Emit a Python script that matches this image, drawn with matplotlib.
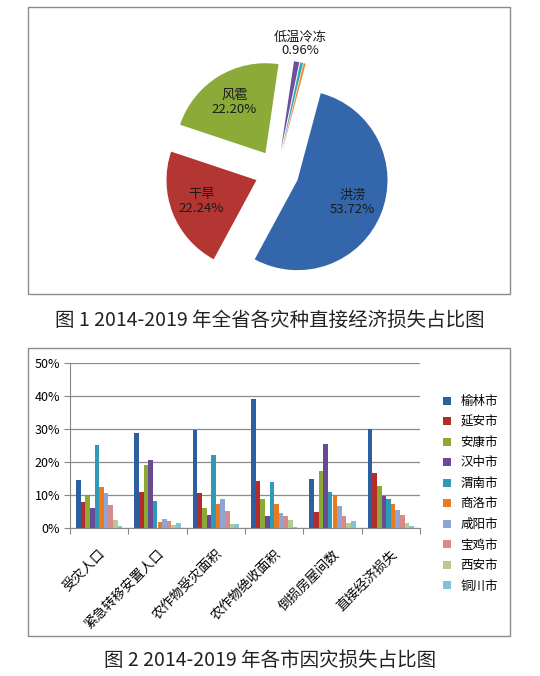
import numpy as np
import matplotlib
matplotlib.use('Agg')
import matplotlib.pyplot as plt
from matplotlib.patches import Rectangle

plt.rcParams['font.family'] = ['Noto Sans CJK SC', 'DejaVu Sans']
plt.rcParams['axes.unicode_minus'] = False

# pie data
pie_labels = ['洪涝', '干旱', '风雹', '低温冷冻', '其他1', '其他2']
pie_values = [53.72, 22.24, 22.20, 0.96, 0.50, 0.38]
pie_colors = ['#3366AA', '#B33633', '#8CAA38', '#6F4E9E', '#35A2C0', '#EE8A2E']
pie_shown = ['洪涝', '干旱', '风雹', '低温冷冻']

# bar data
categories = ['受灾人口', '紧急转移安置人口', '农作物受灾面积', '农作物绝收面积', '倒损房屋间数', '直接经济损失']
cities = ['榆林市', '延安市', '安康市', '汉中市', '渭南市', '商洛市', '咸阳市', '宝鸡市', '西安市', '铜川市']
yulin = [14.5, 28.7, 29.6, 39.0, 14.7, 29.9]
yanan = [7.8, 10.8, 10.5, 14.1, 4.7, 16.6]
ankang = [9.7, 19.1, 6.2, 8.9, 17.2, 12.6]
hanzhong = [6.2, 20.6, 3.9, 3.5, 25.4, 9.6]
weinan = [25.1, 8.3, 22.0, 13.8, 10.8, 8.9]
shangluo = [12.4, 1.9, 7.4, 7.4, 9.8, 7.4]
xianyang = [10.5, 2.8, 8.9, 4.4, 6.8, 5.6]
baoji = [6.9, 2.2, 5.3, 3.5, 3.5, 3.8]
xian = [2.5, 1.0, 1.3, 2.5, 1.5, 1.6]
tongchuan = [0.5, 1.6, 1.1, 0.4, 2.2, 0.7]
city_values = [yulin, yanan, ankang, hanzhong, weinan, shangluo, xianyang, baoji, xian, tongchuan]
city_colors = ['#2D5E9F', '#B42B2B', '#8AAA35', '#6A4A94', '#2F9AB8', '#E97A22',
               '#8DA6D6', '#D98A88', '#B5CB8E', '#7FC3D8']

W, H = 540, 676
fig = plt.figure(figsize=(W / 100, H / 100), dpi=100)


def fx(px):
    return px / W


def fy(py):
    return 1 - py / H


# frames
for (x0, y0, x1, y1) in [(28, 7, 510, 294), (28, 348, 510, 636)]:
    fig.add_artist(Rectangle((fx(x0), fy(y1)), fx(x1) - fx(x0), fy(y0) - fy(y1),
                             transform=fig.transFigure, fill=False,
                             edgecolor='#8c8c8c', linewidth=1.0))

# ---- pie ----
cx, cy, r = 277, 172, 90
ax1 = fig.add_axes([fx(28), fy(294), fx(510) - fx(28), fy(7) - fy(294)])
wedges, _ = ax1.pie(pie_values, colors=pie_colors, startangle=75, counterclock=False,
                    explode=[0.245] * len(pie_values), radius=1,
                    wedgeprops=dict(linewidth=0))
ax1.set_xlim((28 - cx) / r, (510 - cx) / r)
ax1.set_ylim(-(294 - cy) / r, (cy - 7) / r)
ax1.set_aspect('auto')
ax1.axis('off')

for w, name, val in zip(wedges, pie_labels, pie_values):
    if name not in pie_shown:
        continue
    ang = np.deg2rad((w.theta1 + w.theta2) / 2)
    ox, oy = w.center
    dist = 1.2 if val < 5 else 0.66
    ax1.text(ox + dist * np.cos(ang), oy + dist * np.sin(ang),
             f'{name}\n{val:.2f}%', ha='center', va='center',
             fontsize=9.5, color='#1a1a1a', linespacing=1.1)

fig.text(0.5, fy(320), '图 1 2014-2019 年全省各灾种直接经济损失占比图',
         ha='center', va='center', fontsize=14, color='#222222')

# ---- bars ----
ax2 = fig.add_axes([fx(70), fy(528), fx(420) - fx(70), fy(363) - fy(528)])
x = np.arange(len(categories))
n = len(cities)
bw = 0.079
for i, (name, vals, col) in enumerate(zip(cities, city_values, city_colors)):
    ax2.bar(x + (i - (n - 1) / 2) * bw, vals, width=bw, color=col, label=name,
            linewidth=0)

ax2.set_xlim(-0.5, len(categories) - 0.5)
ax2.set_ylim(0, 50)
ax2.set_yticks(np.arange(0, 51, 10))
ax2.set_yticklabels([f'{v}%' for v in range(0, 51, 10)], fontsize=9)
ax2.set_xticks(np.arange(-0.5, len(categories), 1))
ax2.set_xticklabels([])
ax2.set_xticks(x, minor=True)
ax2.set_xticklabels(categories, minor=True, rotation=45, ha='right',
                    rotation_mode='anchor', fontsize=9.5)
ax2.tick_params(axis='x', which='minor', length=0, pad=14)
ax2.tick_params(axis='x', which='major', length=4, color='#888888')
ax2.tick_params(axis='y', length=4, color='#888888', pad=3)
ax2.grid(True, axis='y', color='#8c8c8c', linewidth=0.9)
ax2.set_axisbelow(True)
for s in ['top', 'right']:
    ax2.spines[s].set_visible(False)
ax2.spines['left'].set_color('#888888')
ax2.spines['bottom'].set_color('#888888')

fig.legend(loc='upper left', bbox_to_anchor=(fx(438), fy(390)), frameon=False,
           fontsize=9, handlelength=0.6, handleheight=0.6, handletextpad=0.8,
           labelspacing=0.6, borderaxespad=0)

fig.text(0.5, fy(660), '图 2 2014-2019 年各市因灾损失占比图',
         ha='center', va='center', fontsize=14, color='#222222')

fig.savefig('out.png', dpi=100)
